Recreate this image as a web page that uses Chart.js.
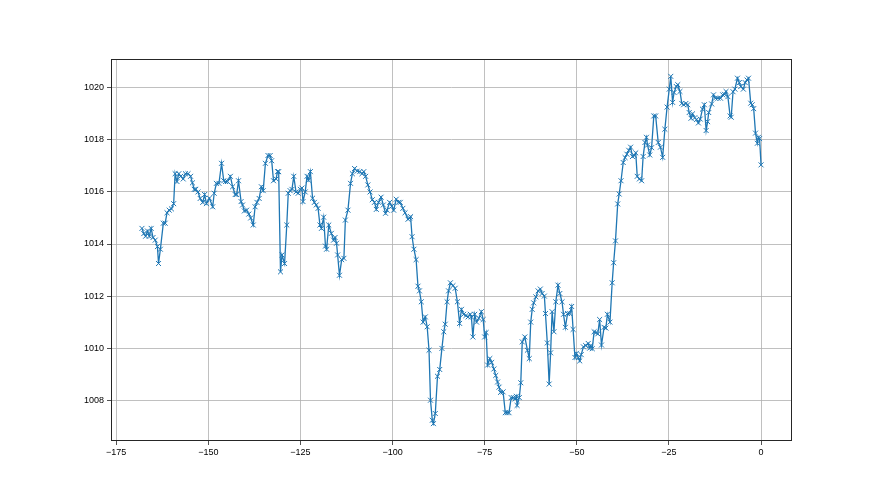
<!DOCTYPE html>
<html>
<head>
<meta charset="utf-8">
<script src="https://cdn.jsdelivr.net/npm/chart.js@4"></script>
<style>
  html, body { margin: 0; padding: 0; background: #fff; }
  canvas { display: block; }
</style>
</head>
<body>
<canvas id="grafico" width="880" height="495"></canvas>
<script>
// hours before now (x) and pressure in hPa (y)
var hours = [
  -168, -167.5, -167, -166.5, -166, -165.5, -165, -164.4, -163.8, -163.5, -163, -162.2, -161.7, -161.2, -160.6, -160,
  -159.4, -159, -158.5, -158, -157.5, -156.8, -156.2, -155.5, -154.8, -154.3, -153.8, -153.4, -152.8, -152.2, -151.5, -151,
  -150.5, -149.7, -148.8, -148.4, -147.8, -147.1, -146.4, -145.8, -145.3, -144.8, -144, -143.4, -142.7, -142.3, -141.8, -141.1,
  -140.7, -140.2, -139.6, -139, -138.5, -137.8, -137.3, -136.8, -136.2, -135.6, -135.1, -134.5, -133.8, -133.2, -132.8, -132.3,
  -131.6, -131.2, -130.9, -130.4, -130, -129.3, -128.7, -128.3, -127.8, -127.3, -126.8, -126.2, -125.6, -125, -124.6, -124.3,
  -123.7, -123.2, -122.8, -122.3, -121.7, -121.2, -120.7, -120.2, -119.7, -119.3, -118.7, -118.2, -117.9, -117.3, -116.6, -116,
  -115.6, -115.2, -114.9, -114.4, -113.8, -113.2, -112.8, -112.1, -111.4, -110.9, -110.3, -109.6, -108.9, -108.3, -107.8, -107.3,
  -106.7, -106.1, -105.5, -104.9, -104.4, -103.8, -103.1, -102.5, -101.9, -101.5, -100.8, -100.2, -99.7, -99, -98.4, -97.9,
  -97.2, -96.6, -95.8, -95.4, -95.1, -94.7, -94.2, -93.6, -93.1, -92.7, -92.2, -91.7, -91.1, -90.6, -90.1, -89.7,
  -89.2, -88.9, -88.4, -87.8, -87.2, -86.6, -86.1, -85.7, -85.2, -84.8, -84.3, -83.6, -83, -82.4, -81.8, -81.3,
  -80.7, -80.1, -79.5, -78.9, -78.6, -78.2, -77.7, -77.2, -76.6, -75.9, -75.4, -75, -74.6, -74.2, -73.6, -73.1,
  -72.5, -72, -71.5, -71.1, -70.7, -70, -69.4, -68.9, -68.4, -67.8, -67.2, -66.7, -66.4, -66.2, -65.6, -65.2,
  -64.8, -64.1, -63.4, -62.9, -62.5, -62.1, -61.7, -61.1, -60.5, -59.9, -59.4, -58.8, -58.5, -58, -57.5, -57.1,
  -56.7, -56.2, -55.7, -55.1, -54.6, -54, -53.6, -53.1, -52.5, -51.9, -51.4, -51, -50.5, -50.1, -49.6, -49.2,
  -48.8, -48.2, -47.6, -46.9, -46.5, -46.2, -45.8, -45.3, -44.8, -44.3, -43.8, -43.3, -42.6, -42.1, -41.7, -41,
  -40.4, -40, -39.5, -38.9, -38.5, -38, -37.4, -36.9, -36.4, -35.9, -35.4, -34.9, -34.4, -34, -33.6, -33,
  -32.4, -32, -31.5, -31.1, -30.8, -30.2, -29.7, -29.1, -28.6, -27.9, -27.3, -26.7, -26.1, -25.5, -24.9, -24.5,
  -24, -23.6, -23, -22.6, -22, -21.5, -21, -20.4, -19.9, -19.5, -19, -18.6, -18, -17.5, -17, -16.5,
  -15.9, -15.4, -14.9, -14.5, -14.2, -13.4, -12.9, -12.4, -11.7, -11, -10.4, -9.9, -9.5, -9, -8.4, -8.1,
  -7.6, -7.1, -6.4, -5.9, -5.5, -4.8, -4.3, -3.8, -3.4, -2.8, -2.4, -2, -1.5, -1, -0.7, -0.4,
  0
];
var pressure = [
  1014.6, 1014.4, 1014.3, 1014.5, 1014.3, 1014.6, 1014.25, 1014.15, 1013.9, 1013.25, 1013.8, 1014.8, 1014.8, 1015.2, 1015.3, 1015.35,
  1015.55, 1016.7, 1016.4, 1016.7, 1016.6, 1016.5, 1016.7, 1016.7, 1016.6, 1016.35, 1016.1, 1016.1, 1016.0, 1015.75, 1015.6, 1015.9,
  1015.55, 1015.76, 1015.43, 1015.95, 1016.33, 1016.33, 1017.1, 1016.43, 1016.4, 1016.4, 1016.6, 1016.2, 1015.9, 1015.9, 1016.43, 1015.63,
  1015.5, 1015.27, 1015.3, 1015.15, 1015.0, 1014.73, 1015.43, 1015.6, 1015.75, 1016.2, 1016.05, 1017.1, 1017.4, 1017.4, 1017.2, 1016.43,
  1016.5, 1016.78, 1016.78, 1012.93, 1013.58, 1013.25, 1014.73, 1015.95, 1016.05, 1016.1, 1016.6, 1016.0, 1015.95, 1016.1, 1016.15, 1015.63,
  1016.0, 1016.6, 1016.45, 1016.78, 1015.76, 1015.6, 1015.5, 1015.37, 1014.73, 1014.6, 1015.03, 1013.92, 1013.8, 1014.73, 1014.41, 1014.15,
  1014.25, 1014.03, 1013.58, 1012.8, 1013.4, 1013.45, 1014.92, 1015.3, 1016.33, 1016.7, 1016.9, 1016.8, 1016.78, 1016.7, 1016.78, 1016.6,
  1016.27, 1016.0, 1015.7, 1015.6, 1015.33, 1015.6, 1015.8, 1015.5, 1015.18, 1015.3, 1015.6, 1015.45, 1015.3, 1015.72, 1015.6, 1015.6,
  1015.37, 1015.2, 1014.95, 1015.0, 1015.05, 1014.28, 1013.8, 1013.4, 1012.38, 1012.2, 1011.78, 1011.0, 1011.2, 1010.82, 1009.92, 1008.0,
  1007.23, 1007.1, 1007.49, 1008.92, 1009.18, 1009.99, 1010.63, 1010.92, 1011.78, 1012.2, 1012.51, 1012.4, 1012.3, 1011.78, 1010.95, 1011.49,
  1011.3, 1011.25, 1011.2, 1011.3, 1011.2, 1010.43, 1011.3, 1011.0, 1011.15, 1011.4, 1011.1, 1010.43, 1010.6, 1009.35, 1009.6, 1009.45,
  1009.2, 1008.95, 1008.7, 1008.5, 1008.3, 1008.32, 1007.52, 1007.52, 1007.52, 1008.1, 1008.1, 1008.05, 1008.15, 1007.8, 1008.1, 1008.67,
  1010.24, 1010.43, 1009.92, 1009.6, 1011.0, 1011.49, 1011.74, 1011.97, 1012.2, 1012.27, 1012.1, 1012.0, 1011.33, 1010.2, 1008.62, 1009.82,
  1011.4, 1010.63, 1011.78, 1012.42, 1012.1, 1011.78, 1011.3, 1010.8, 1011.33, 1011.33, 1011.6, 1010.72, 1009.64, 1009.8, 1009.64, 1009.51,
  1009.75, 1010.05, 1010.1, 1010.18, 1010.0, 1010.1, 1009.98, 1010.63, 1010.6, 1010.55, 1011.1, 1010.12, 1010.8, 1010.77, 1011.3, 1011.0,
  1012.51, 1013.28, 1014.12, 1015.54, 1015.92, 1016.43, 1017.13, 1017.32, 1017.45, 1017.6, 1017.72, 1017.36, 1017.4, 1017.5, 1016.6, 1016.5,
  1016.43, 1017.36, 1017.9, 1018.1, 1017.8, 1017.42, 1017.7, 1018.92, 1018.92, 1017.9, 1017.72, 1017.33, 1018.41, 1019.26, 1019.95, 1020.44,
  1019.44, 1019.82, 1020.05, 1020.12, 1019.86, 1019.4, 1019.35, 1019.4, 1019.35, 1019.05, 1018.83, 1019.0, 1018.85, 1018.78, 1018.65, 1018.8,
  1019.18, 1019.35, 1018.36, 1018.7, 1019.05, 1019.38, 1019.73, 1019.6, 1019.6, 1019.6, 1019.73, 1019.75, 1019.86, 1019.66, 1018.92, 1018.87,
  1019.85, 1019.95, 1020.37, 1020.2, 1020.05, 1019.95, 1020.2, 1020.3, 1020.37, 1019.41, 1019.35, 1019.2, 1018.26, 1017.87, 1018.1, 1018.05,
  1017.04
];
var xTicks = [-175, -150, -125, -100, -75, -50, -25, 0];
var yTicks = [1008, 1010, 1012, 1014, 1016, 1018, 1020];

// margens de 5% como no matplotlib
var xMin = Math.min.apply(null, hours), xMax = Math.max.apply(null, hours);
var yMin = Math.min.apply(null, pressure), yMax = Math.max.apply(null, pressure);
var xPad = (xMax - xMin) * 0.05, yPad = (yMax - yMin) * 0.05;

var azul = "#1f77b4";
var fonte = { family: "Liberation Sans", size: 9 };

// moldura (spines) nos quatro lados
var moldura = {
  id: "moldura",
  afterDraw: function (chart) {
    var a = chart.chartArea, ctx = chart.ctx;
    ctx.save();
    ctx.strokeStyle = "#262626";
    ctx.lineWidth = 1;
    ctx.strokeRect(Math.round(a.left) + 0.5, Math.round(a.top) + 0.5,
      Math.round(a.right - a.left) - 1, Math.round(a.bottom - a.top) - 1);
    ctx.restore();
  }
};

new Chart(document.getElementById("grafico"), {
  type: "scatter",
  data: {
    datasets: [{
      data: hours.map(function (h, i) { return { x: h, y: pressure[i] }; }),
      showLine: true,
      borderColor: azul,
      backgroundColor: azul,
      borderWidth: 1.3,
      pointStyle: "crossRot",
      pointRadius: 3.5,
      pointBorderWidth: 1,
      pointBorderColor: azul,
      tension: 0
    }]
  },
  options: {
    responsive: false,
    animation: false,
    events: [],
    layout: { padding: { top: 59, right: 88, left: 0, bottom: 0 } },
    plugins: { legend: { display: false }, tooltip: { enabled: false } },
    scales: {
      x: {
        type: "linear",
        min: xMin - xPad,
        max: xMax + xPad,
        afterBuildTicks: function (s) { s.ticks = xTicks.map(function (v) { return { value: v }; }); },
        afterFit: function (s) { s.height = 54; },
        grid: { color: "#b0b0b0", lineWidth: 0.8, tickColor: "#262626", tickLength: 4 },
        border: { display: false },
        ticks: {
          color: "#000",
          font: fonte,
          padding: 2,
          maxRotation: 0,
          callback: function (v) { return v < 0 ? "\u2212" + Math.abs(v) : String(v); }
        }
      },
      y: {
        type: "linear",
        min: yMin - yPad,
        max: yMax + yPad,
        afterBuildTicks: function (s) { s.ticks = yTicks.map(function (v) { return { value: v }; }); },
        afterFit: function (s) { s.width = 111; },
        grid: { color: "#b0b0b0", lineWidth: 0.8, tickColor: "#262626", tickLength: 4 },
        border: { display: false },
        ticks: {
          color: "#000",
          font: fonte,
          padding: 3,
          callback: function (v) { return String(v); }
        }
      }
    }
  },
  plugins: [moldura]
});
</script>
</body>
</html>
